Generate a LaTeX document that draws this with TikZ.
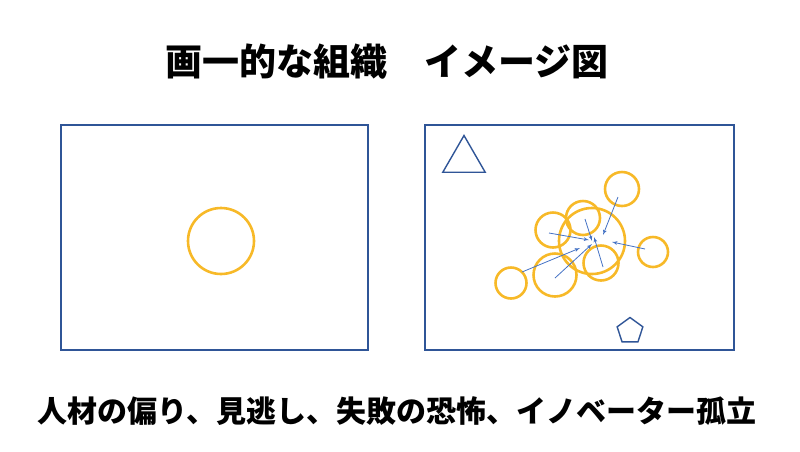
\documentclass[tikz,border=0pt]{standalone}
\usepackage{fontspec}
\newfontfamily\jpfont{Noto Sans CJK JP}
\usetikzlibrary{shapes,arrows,positioning}

\definecolor{frameblue}{HTML}{2F5597}
\definecolor{ringgold}{HTML}{F7B928}
\definecolor{arrowblue}{HTML}{4472C4}

\begin{document}
\begin{tikzpicture}[
    x=1pt, y=-1pt,
    % Frame and text styles
    panel/.style={
        draw=frameblue,
        line width=1.6pt
    },
    heading/.style={
        font=\jpfont\bfseries\fontsize{37}{40}\selectfont,
        inner sep=0pt
    },
    caption/.style={
        font=\jpfont\bfseries\fontsize{30}{34}\selectfont,
        inner sep=0pt
    },
    % Member styles
    member/.style={
        circle,
        draw=ringgold,
        line width=2.6pt,
        inner sep=0pt,
        minimum size=#1
    },
    outsider/.style={
        regular polygon,
        regular polygon sides=#1,
        draw=frameblue,
        line width=1.4pt,
        inner sep=0pt
    },
    pull/.style={draw=arrowblue, line width=0.8pt, -latex'}
]
\useasboundingbox (0,0) rectangle (800,451);

% Titles
\node[heading] (title) at (387,62) {画一的な組織　イメージ図};
\node[caption] (summary) at (397,411) {人材の偏り、見逃し、失敗の恐怖、イノベーター孤立};

% Left panel
\draw[panel] (61,125) rectangle (368,350);
\node[member=66pt] (lone) at (221,241) {};

% Right panel
\draw[panel] (425,125) rectangle (734,350);

\node[outsider=3, minimum size=49pt] (triangle) at (464,160) {};
\node[outsider=5, minimum size=27pt] (pentagon) at (630,331) {};

\node[member=66pt] (core) at (592,241) {};
\node[member=34pt] (upper) at (583,218) {};
\node[member=35pt] (left) at (553,230) {};
\node[member=35pt] (lower) at (601,263) {};
\node[member=34pt] (far) at (622,189) {};
\node[member=30pt] (right) at (653,252) {};
\node[member=43pt] (big) at (555,275) {};
\node[member=31pt] (corner) at (511,283) {};

% Pull towards the centre
\coordinate (tail far) at (618,197);
\coordinate (tail left) at (549,233);
\coordinate (tail upper) at (585,219);
\coordinate (tail lower) at (603,267);
\coordinate (tail right) at (645,249);
\coordinate (tail corner) at (522,272);
\coordinate (tail big) at (555,278);

\coordinate (head far) at (603,235);
\coordinate (head left) at (589,240);
\coordinate (head upper) at (592,241);
\coordinate (head lower) at (594,237);
\coordinate (head right) at (612,242);
\coordinate (head corner) at (580,248);
\coordinate (head big) at (592,244);

\foreach \m in {far,left,upper,lower,right,corner,big}
    \draw[pull] (tail \m) -- (head \m);

\end{tikzpicture}
\end{document}
